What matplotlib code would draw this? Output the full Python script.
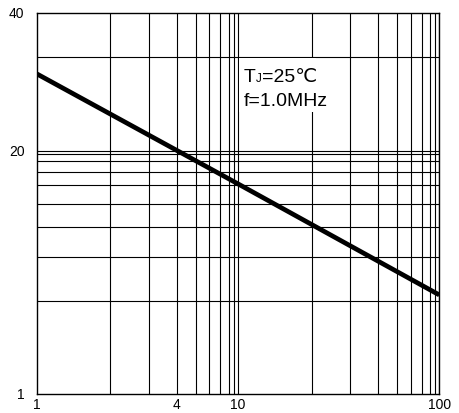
import numpy as np
import matplotlib
matplotlib.use("Agg")
import matplotlib.pyplot as plt
from matplotlib.patches import Rectangle

plt.rcParams['font.family'] = ['Liberation Sans', 'DejaVu Sans']

# reverse voltage (V) and capacitance
volts = [1, 10, 100]
cap = [20.7, 7.3, 2.55]

# gridline places inside one decade (the drawing is not a true log grid)
grid_frac_x = [0.365, 0.556, 0.695, 0.790, 0.857, 0.912, 0.954, 0.980, 1.0]
grid_frac_y = [0.380, 0.563, 0.685, 0.782, 0.858, 0.911, 0.956, 0.985, 1.0, 1.386]

xticks = [1, 10 ** 0.695, 10, 100]
xlabels = ["1", "4", "10", "100"]
ytop = 10 ** 1.568
yticks = [1, 10, ytop]
ylabels = ["1", "20", "40"]

fig = plt.figure(figsize=(4.59, 4.13), dpi=100)
ax = fig.add_axes([0.0806, 0.0467, 0.8765, 0.9225])
ax.set_xscale('log')
ax.set_yscale('log')
ax.set_xlim(1, 100)
ax.set_ylim(1, ytop)

for dec in [1, 10]:
    for f in grid_frac_x:
        ax.axvline(dec * 10 ** f, color='black', lw=0.8, zorder=1)
for f in grid_frac_y:
    ax.axhline(10 ** f, color='black', lw=0.8, zorder=1)

ax.plot(volts, cap, color='black', lw=3.4, solid_capstyle='butt', zorder=3)

# white patch behind the note
ax.add_patch(Rectangle((0.503, 0.739), 0.19, 0.142, transform=ax.transAxes,
                       facecolor='white', edgecolor='none', zorder=2))
tx, ty = 10 ** 1.026, 10 ** 1.284
fs = 14
ax.text(tx, ty, "T", fontsize=fs, va='baseline', ha='left', zorder=4)
ax.annotate("J", (tx, ty), xytext=(8.7, 0), textcoords='offset points',
            fontsize=8.5, va='baseline', ha='left', zorder=4)
ax.annotate("=25\u2103", (tx, ty), xytext=(13.3, 0), textcoords='offset points',
            fontsize=fs, va='baseline', ha='left', zorder=4)
ax.annotate("f=1.0MHz", (tx, ty), xytext=(0, -17.3), textcoords='offset points',
            fontsize=fs, va='baseline', ha='left', zorder=4)

ax.xaxis.set_major_locator(matplotlib.ticker.FixedLocator(xticks))
ax.xaxis.set_minor_locator(matplotlib.ticker.NullLocator())
ax.set_xticklabels(xlabels)
ax.yaxis.set_major_locator(matplotlib.ticker.FixedLocator(yticks))
ax.yaxis.set_minor_locator(matplotlib.ticker.NullLocator())
ax.set_yticklabels(ylabels)
ax.tick_params(axis='x', length=0, labelsize=10, pad=3)
ax.tick_params(axis='y', length=0, labelsize=10, pad=9)
for s in ax.spines.values():
    s.set_linewidth(1.0)

fig.savefig("out.png", dpi=100)
